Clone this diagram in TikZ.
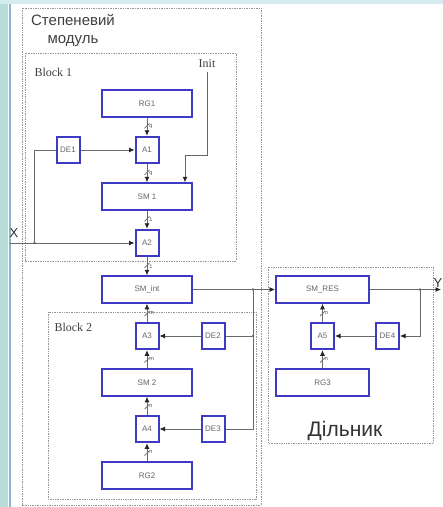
\documentclass[tikz,border=0pt]{standalone}
\usepackage{fontspec}
\setmainfont{Liberation Sans}
\newfontfamily\serifnote{Liberation Serif}
\usepackage{tikz}
\usetikzlibrary{positioning, arrows.meta}
\definecolor{boxblue}{RGB}{62,58,196}
\definecolor{wiregray}{RGB}{105,105,105}
\definecolor{framegray}{RGB}{150,150,150}
\definecolor{edgeteal}{RGB}{185,222,218}
\definecolor{edgeline}{RGB}{140,180,205}
\definecolor{topcyan}{RGB}{212,236,240}

\begin{document}
\begin{tikzpicture}[
  x=1pt, y=-1pt,
  node distance=18pt,
  regbox/.style={draw=boxblue,line width=2pt,fill=white,minimum width=90pt,minimum height=26.5pt,inner sep=0pt,font=\fontsize{8}{9}\selectfont,text=black!60},
  sqbox/.style={regbox,minimum width=23pt},
  wire/.style={wiregray,line width=0.8pt},
  arr/.style={wire,-{Latex[length=5.5pt,width=5pt,color=black!85]}},
  bustick/.style={wiregray,line width=0.6pt},
  buslbl/.style={right,font=\fontsize{5.5}{6}\selectfont,inner sep=1pt,xshift=1pt,text=black!70},
  frame/.style={framegray,densely dotted,line width=0.7pt},
  blocktext/.style={font=\serifnote\fontsize{12}{13}\selectfont,text=black!75},
  iotext/.style={font=\fontsize{13}{14}\selectfont,text=black!80},
  dot/.style={circle,fill=wiregray,inner sep=0pt,minimum size=2.8pt},
]

\useasboundingbox (0,0) rectangle (443,507);
\fill[white] (0,0) rectangle (443,507);
\fill[edgeteal] (0,0) rectangle (8,507);
\fill[topcyan] (0,0) rectangle (443,4);
\draw[edgeline,line width=1.5pt] (10,4) -- (10,507);

\draw[frame] (22,8) rectangle (261,505);
\draw[frame] (25,53) rectangle (236,261);
\draw[frame] (48,312) rectangle (256,499);
\draw[frame] (268,267) rectangle (433,443);

\node[align=center,font=\fontsize{15}{18}\selectfont,text=black!75] (title) at (73,30) {Степеневий\\модуль};
\node[blocktext,anchor=west] (blk1) at (31,72) {Block 1};
\node[blocktext,anchor=west] (blk2) at (51,327) {Block 2};
\node[blocktext] (init) at (207,64) {Init};
\node[iotext] (xlab) at (14,233) {X};
\node[iotext] (ylab) at (438,283) {Y};
\node[font=\fontsize{21}{24}\selectfont,text=black!80] (divname) at (345,431) {Дільник};

\node[regbox] (rg1) at (147,103.5) {RG1};
\node[sqbox,below=of rg1] (a1) {A1};
\node[regbox,below=of a1] (sm1) {SM 1};
\node[sqbox,below=of sm1] (a2) {A2};
\node[regbox,below=of a2] (smint) {SM\_int};
\node[sqbox,below=of smint] (a3) {A3};
\node[regbox,below=of a3] (sm2) {SM 2};
\node[sqbox,below=of sm2] (a4) {A4};
\node[regbox,below=of a4] (rg2) {RG2};
\node[sqbox,left=54pt of a1] (de1) {DE1};
\node[sqbox,right=41pt of a3] (de2) {DE2};
\node[sqbox,right=41pt of a4] (de3) {DE3};

\node[regbox,minimum width=93pt,right=82pt of smint] (smres) {SM\_RES};
\node[sqbox,below=of smres] (a5) {A5};
\node[regbox,minimum width=93pt,below=of a5] (rg3) {RG3};
\node[sqbox,right=40pt of a5] (de4) {DE4};

\foreach \from/\to/\w in {rg1/a1/q, a1/sm1/q, sm1/a2/1, a2/smint/1, a3/smint/m, sm2/a3/m, a4/sm2/n, rg2/a4/n, rg3/a5/n, a5/smres/n} {
  \draw[arr] (\from) -- (\to) node[buslbl,pos=0.5] {\w} coordinate[pos=0.45] (tick);
  \draw[bustick] ([shift={(-2.5,2.5)}]tick) -- ([shift={(2.5,-2.5)}]tick);
}

\path (a2.west) ++(-125pt,0pt) coordinate (xin);
\path (a2.west) ++(-100pt,0pt) coordinate (xsplit);
\draw[arr] (xin) -- (a2.west);
\draw[wire] (xsplit) |- (de1.west);
\draw[arr] (de1) -- (a1);
\node[dot] at (xsplit) {};

\path (init.south) ++(0pt,-84pt) coordinate (initbend);
\draw[arr] (init.south) -- (initbend) -| ([xshift=-8pt]sm1.north east);

\path (smint.east) ++(60pt,0pt) coordinate (jint);
\draw[arr] (smint) -- (smres);
\draw[wire] (jint) |- (de3.east);
\draw[wire] (jint |- de2.east) -- (de2.east);
\draw[arr] (de2) -- (a3);
\draw[arr] (de3) -- (a4);
\node[dot] at (jint) {};
\node[dot] at (jint |- de2.east) {};

\path (smres.east) ++(71pt,0pt) coordinate (yout);
\path (smres.east) ++(50pt,0pt) coordinate (jres);
\draw[arr] (smres) -- (yout);
\draw[arr] (jres) |- (de4.east);
\draw[arr] (de4) -- (a5);
\node[dot] at (jres) {};

\end{tikzpicture}
\end{document}
